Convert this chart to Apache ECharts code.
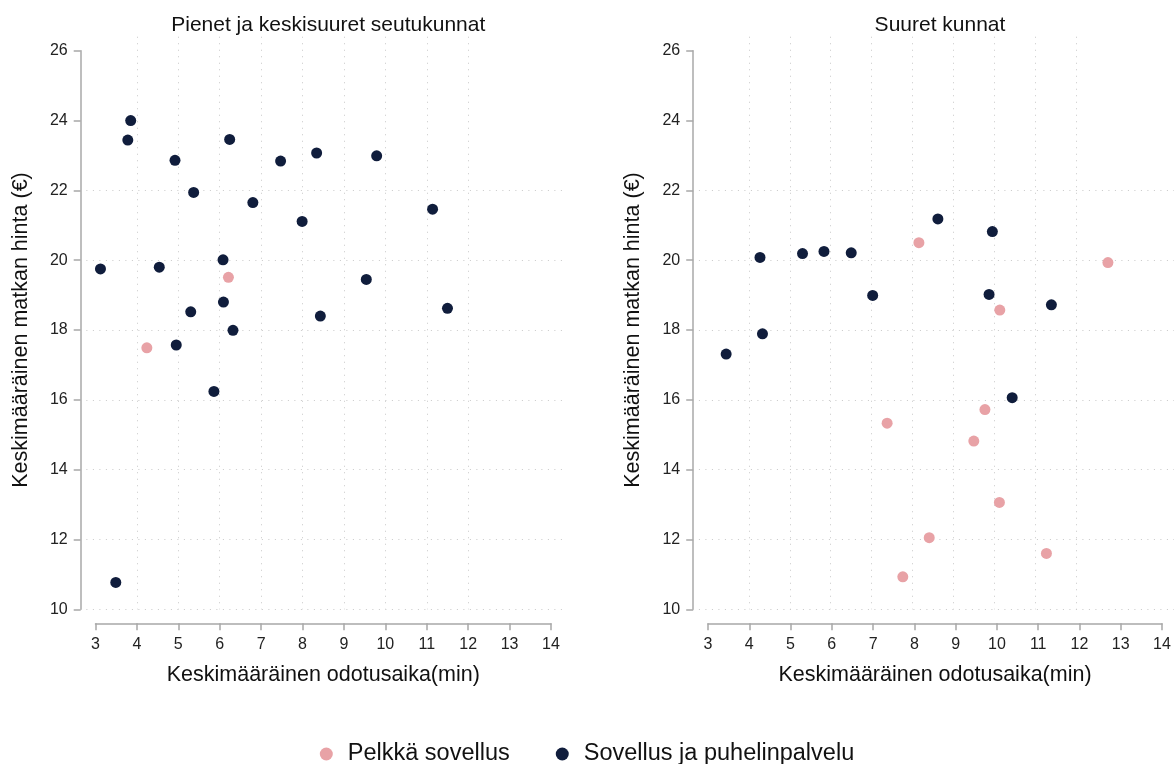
<!DOCTYPE html>
<html><head><meta charset="utf-8">
<script src="https://cdn.jsdelivr.net/npm/echarts@6/dist/echarts.min.js"></script>
<style>html,body{margin:0;padding:0;background:#fff}#c{width:1174px;height:764px}</style>
</head><body><div id="c"></div>
<script>
// ---- data ----
const panelTitles = ['Pienet ja keskisuuret seutukunnat', 'Suuret kunnat'];
const seriesNames = ['Pelkkä sovellus', 'Sovellus ja puhelinpalvelu'];
const xAxisName = 'Keskimääräinen odotusaika(min)';
const yAxisName = 'Keskimääräinen matkan hinta (€)';
const xTickValues = [3, 4, 5, 6, 7, 8, 9, 10, 11, 12, 13, 14];
const yTickValues = [10, 12, 14, 16, 18, 20, 22, 24, 26];
const xGridValues = [3, 4, 5, 6, 7, 8, 9, 10, 11, 12, 13];
const yGridValues = [10, 12, 14, 16, 18, 20, 22, 24];

// Left panel: Pienet ja keskisuuret seutukunnat
const smallAppX = [6.21, 4.24];
const smallAppY = [19.51, 17.49];
const smallBothX = [3.12, 3.85, 3.78, 4.92, 6.24, 7.47, 8.34, 9.79, 5.37, 6.80, 7.99, 11.14,
                    4.54, 6.08, 9.54, 6.09, 5.30, 8.43, 11.50, 6.32, 4.95, 5.86, 3.49];
const smallBothY = [19.75, 24.00, 23.44, 22.86, 23.46, 22.84, 23.07, 22.99, 21.94, 21.65, 21.11, 21.46,
                    19.80, 20.01, 19.45, 18.80, 18.52, 18.40, 18.62, 17.99, 17.57, 16.24, 10.77];

// Right panel: Suuret kunnat
const largeAppX = [8.11, 10.07, 12.69, 9.71, 7.34, 9.44, 10.06, 8.36, 11.20, 7.72];
const largeAppY = [20.50, 18.57, 19.93, 15.72, 15.33, 14.82, 13.06, 12.05, 11.60, 10.93];
const largeBothX = [3.44, 4.32, 4.26, 5.29, 5.81, 6.47, 6.99, 8.57, 9.89, 9.81, 11.32, 10.37];
const largeBothY = [17.31, 17.89, 20.08, 20.19, 20.25, 20.21, 18.99, 21.18, 20.82, 19.02, 18.72, 16.06];

// ---- layout / style ----
const FONT = 'Liberation Sans, Arial, sans-serif';
const colApp = '#E8A2A6';
const colBoth = '#101D3C';
const axisCol = '#a8a8a8';
const xMin = xTickValues[0], xMax = xTickValues[xTickValues.length - 1];
const yMin = yTickValues[0], yMax = yTickValues[yTickValues.length - 1];
const padX = [2.78, 14.39], padY = [10, 26.4];
const gridsA = [
  {left: 95.5, top: 50.7, width: 455.5, height: 558.6},
  {left: 708, top: 50.7, width: 454, height: 558.6}
];
function plotRegion(g) {
  const sx = g.width / (xMax - xMin), sy = g.height / (yMax - yMin);
  const left = g.left - (xMin - padX[0]) * sx;
  const right = g.left + (padX[1] - xMin) * sx;
  const top = g.top - (padY[1] - yMax) * sy;
  const bottom = g.top + g.height + (padY[0] - yMin) * sy;
  return {left: left, top: top, width: right - left, height: bottom - top};
}
const zip = (xs, ys) => xs.map((x, i) => [x, ys[i]]);

const grids = [], xAxes = [], yAxes = [], titles = [];
gridsA.forEach((g, i) => {
  grids.push(g);
  titles.push({
    text: panelTitles[i], left: g.left + g.width / 2, top: 10, textAlign: 'center',
    textStyle: {fontFamily: FONT, fontSize: 21, fontWeight: 'normal', color: '#111'}
  });
  xAxes.push({
    type: 'value', gridIndex: i, min: xMin, max: xMax, interval: 1, offset: 14,
    name: xAxisName, nameLocation: 'middle', nameGap: 41,
    nameTextStyle: {fontFamily: FONT, fontSize: 21.5, color: '#111'},
    axisLine: {show: true, lineStyle: {color: axisCol, width: 1.5}},
    axisTick: {show: true, length: 7, lineStyle: {color: axisCol, width: 1.5}},
    axisLabel: {fontFamily: FONT, fontSize: 16, color: '#222', margin: 13},
    splitLine: {show: false}
  });
  yAxes.push({
    type: 'value', gridIndex: i, min: yMin, max: yMax, interval: 2, offset: 14.8,
    name: yAxisName, nameLocation: 'middle', nameGap: 49,
    nameTextStyle: {fontFamily: FONT, fontSize: 21.5, color: '#111'},
    axisLine: {show: true, lineStyle: {color: axisCol, width: 1.5}},
    axisTick: {show: true, length: 7, lineStyle: {color: axisCol, width: 1.5}},
    axisLabel: {fontFamily: FONT, fontSize: 16, color: '#222', margin: 13},
    splitLine: {show: false}
  });
});
// background grids for dotted gridlines (plot region)
gridsA.forEach((g, i) => {
  const r = plotRegion(g);
  grids.push(r);
  const gi = grids.length - 1;
  const gl = {show: true, lineStyle: {color: '#c8c8c8', width: 1, type: [1, 5.5]}};
  xAxes.push({
    type: 'value', gridIndex: gi, min: padX[0], max: padX[1],
    axisLine: {show: false}, axisLabel: {show: false},
    axisTick: {show: false, customValues: xGridValues},
    splitLine: Object.assign({showMinLine: false, showMaxLine: false}, gl)
  });
  yAxes.push({
    type: 'value', gridIndex: gi, min: padY[0], max: padY[1],
    axisLine: {show: false}, axisLabel: {show: false},
    axisTick: {show: false, customValues: yGridValues},
    splitLine: Object.assign({showMinLine: true, showMaxLine: false}, gl)
  });
});

const mk = (name, data, idx, color) => ({
  name: name, type: 'scatter', xAxisIndex: idx, yAxisIndex: idx, data: data,
  symbol: 'circle', symbolSize: 11, itemStyle: {color: color, opacity: 1},
  emphasis: {disabled: true}, z: 3
});
const series = [
  mk(seriesNames[1], zip(smallBothX, smallBothY), 0, colBoth),
  mk(seriesNames[0], zip(smallAppX, smallAppY), 0, colApp),
  mk(seriesNames[1], zip(largeBothX, largeBothY), 1, colBoth),
  mk(seriesNames[0], zip(largeAppX, largeAppY), 1, colApp)
];

const chart = echarts.init(document.getElementById('c'), null, {renderer: 'canvas'});
chart.setOption({
  backgroundColor: '#fff',
  animation: false,
  title: titles,
  grid: grids,
  xAxis: xAxes,
  yAxis: yAxes,
  legend: {
    data: seriesNames, left: 'center', top: 737, icon: 'circle',
    itemWidth: 13, itemHeight: 13, itemGap: 46,
    textStyle: {fontFamily: FONT, fontSize: 23.5, color: '#111', padding: [0, 0, 0, 10]}
  },
  series: series
});
</script></body></html>
